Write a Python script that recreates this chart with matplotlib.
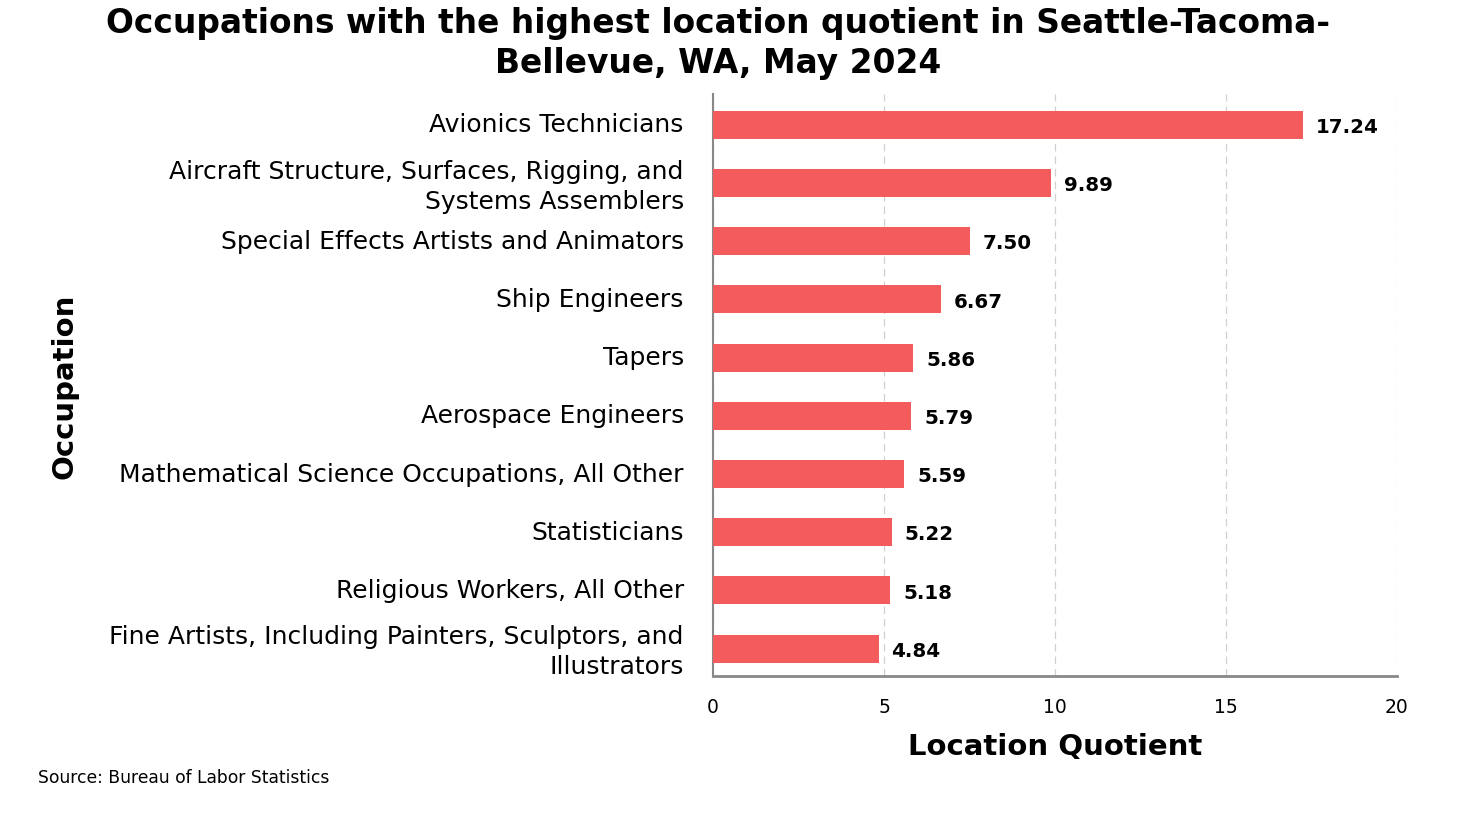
import matplotlib
matplotlib.use("Agg")
from matplotlib import pyplot as plt
from matplotlib.transforms import ScaledTranslation
import numpy as np

occupations = [
    "Avionics Technicians",
    "Aircraft Structure, Surfaces, Rigging, and\nSystems Assemblers",
    "Special Effects Artists and Animators",
    "Ship Engineers",
    "Tapers",
    "Aerospace Engineers",
    "Mathematical Science Occupations, All Other",
    "Statisticians",
    "Religious Workers, All Other",
    "Fine Artists, Including Painters, Sculptors, and\nIllustrators",
]
quotients = [17.24, 9.89, 7.50, 6.67, 5.86, 5.79, 5.59, 5.22, 5.18, 4.84]
x_ticks = [0, 5, 10, 15, 20]

plt.rcParams['font.family'] = ['DejaVu Sans']

fig = plt.figure(figsize=(14.76, 8.2), dpi=100)
ax = fig.add_axes([713/1476, 1 - 677/820, (1397-713)/1476, (677-95)/820])

y = np.arange(len(occupations))
ax.barh(y, quotients, height=0.48, color='#f45b5d', zorder=3)
ax.set_ylim(len(occupations) - 0.53, -0.53)
ax.set_xlim(0, 20)

ax.set_yticks(y)
ax.set_yticklabels(occupations, fontsize=18, linespacing=1.32)
ax.set_xticks(x_ticks)
ax.set_xticklabels([str(t) for t in x_ticks], fontsize=13.5)
ax.tick_params(axis='y', length=0, pad=21)
ax.tick_params(axis='x', length=0, pad=15)
# nudge the category labels up a little
shift = ScaledTranslation(0, 3/100, fig.dpi_scale_trans)
for lab in ax.get_yticklabels():
    lab.set_transform(lab.get_transform() + shift)

ax.grid(axis='x', color='#d0d0d0', linestyle=(0, (6, 4)), linewidth=0.9, zorder=0)
for s in ['top', 'right']:
    ax.spines[s].set_visible(False)
ax.spines['left'].set_color('#888888')
ax.spines['left'].set_linewidth(1.5)
ax.spines['bottom'].set_color('#888888')
ax.spines['bottom'].set_linewidth(2)

for yi, v in zip(y, quotients):
    ax.text(v + 0.38, yi + 0.03, f"{v:.2f}", va='center', ha='left',
            fontsize=14.3, fontweight='bold')

ax.set_xlabel("Location Quotient", fontsize=21, fontweight='bold', labelpad=12)
fig.text(64/1476, 1 - 386/820, "Occupation", rotation=90, fontsize=21,
         fontweight='bold', ha='center', va='center')

fig.suptitle("Occupations with the highest location quotient in Seattle-Tacoma-\nBellevue, WA, May 2024",
             x=718/1476, y=1 - 7/820, fontsize=23.7, fontweight='bold', linespacing=1.25)

fig.text(38/1476, 1 - 778/820, "Source: Bureau of Labor Statistics", fontsize=12.3,
         ha='left', va='center')

fig.savefig("out.png", dpi=100)
